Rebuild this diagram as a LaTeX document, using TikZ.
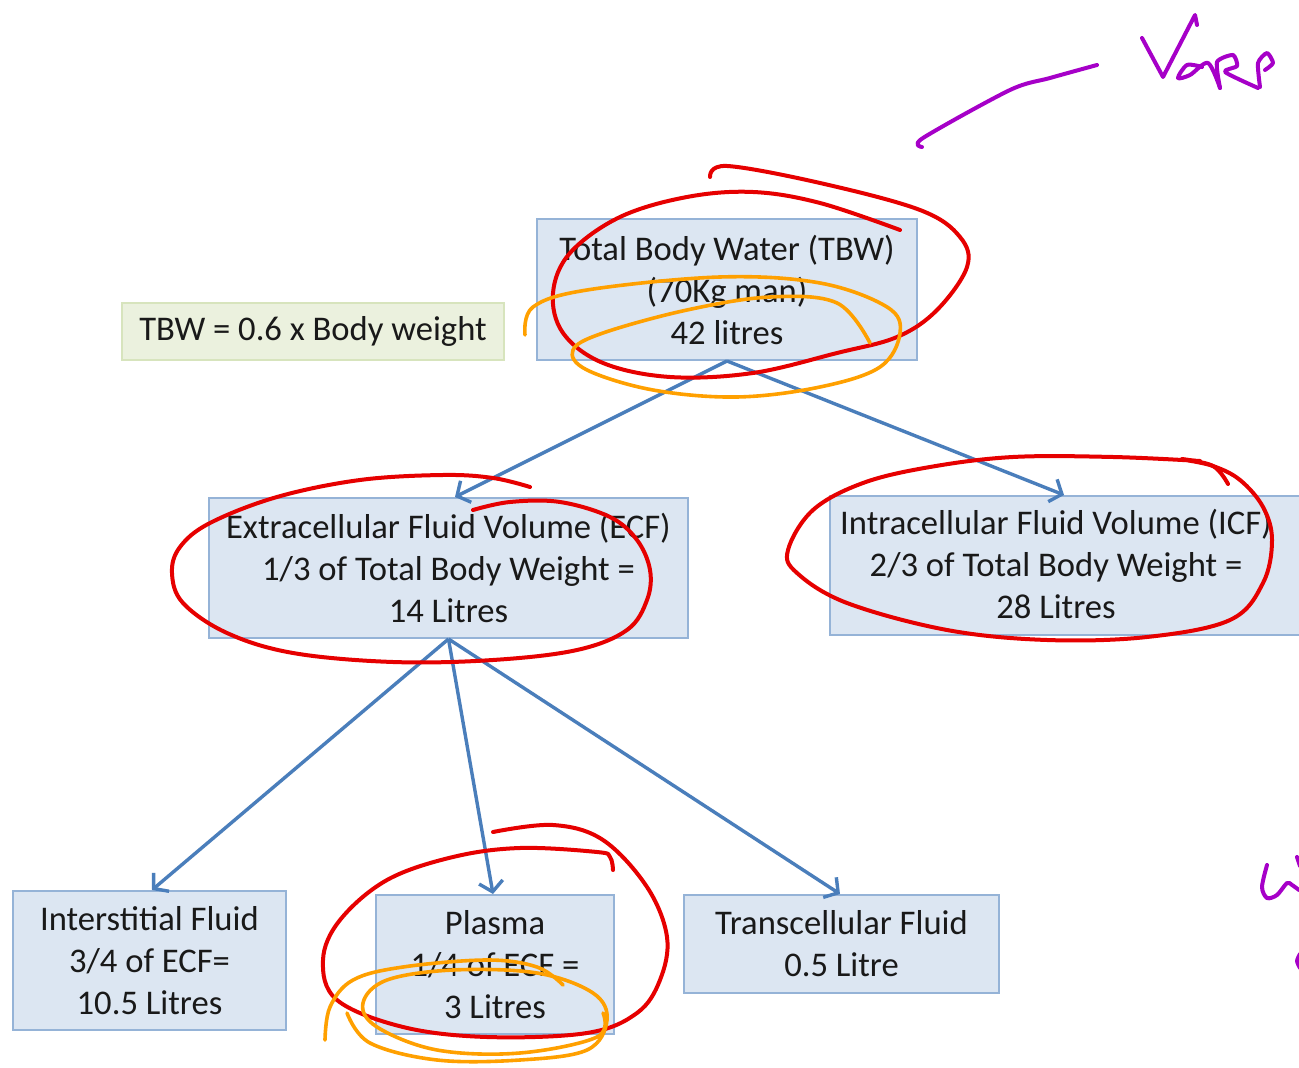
\documentclass[tikz,border=0pt]{standalone}
\usepackage{fontspec}
\setmainfont{Carlito}
\usetikzlibrary{arrows.meta}
\definecolor{boxfill}{HTML}{DCE6F2}
\definecolor{boxline}{HTML}{95B3D7}
\definecolor{greenfill}{HTML}{EBF1DE}
\definecolor{greenline}{HTML}{D7E4BD}
\definecolor{arrowblue}{HTML}{4A7EBB}
\definecolor{inkred}{HTML}{E60000}
\definecolor{inkorange}{HTML}{FFA000}
\definecolor{inkpurple}{HTML}{A600C8}
\tikzset{
  fluidbox/.style={draw=boxline, fill=boxfill, line width=1pt, inner sep=0pt, align=center,
    text=black!90, font=\fontsize{17.3}{21}\selectfont},
  notebox/.style={draw=greenline, fill=greenfill, line width=1pt, inner sep=0pt, align=center,
    text=black!90, font=\fontsize{17.3}{21}\selectfont},
  plaintext/.style={inner sep=0pt, align=center, text=black!90, font=\fontsize{17.3}{21}\selectfont},
  flow/.style={draw=arrowblue, line width=1.7pt, -{Straight Barb[length=5pt,width=12pt,line width=1.7pt]}},
  redink/.style={draw=inkred, line width=2pt, line cap=round, line join=round},
  orangeink/.style={draw=inkorange, line width=1.8pt, line cap=round, line join=round},
  purpleink/.style={draw=inkpurple, line width=2pt, line cap=round, line join=round}
}
\begin{document}
\begin{tikzpicture}[x=0.5pt, y=-0.5pt]
\useasboundingbox (0,0) rectangle (1299,1068);
\clip (0,0) rectangle (1299,1068);
\fill[white] (0,0) rectangle (1299,1068);

% boxes
\node[fluidbox, minimum width=190pt, minimum height=70.5pt] (TBW) at (727,289.5)
  {Total Body Water (TBW)\\(70Kg man)\\42 litres};
\node[notebox, minimum width=191pt, minimum height=28.5pt] (note) at (313,331.5)
  {TBW = 0.6 x Body weight};
\node[fluidbox, minimum width=239.5pt, minimum height=70pt] (ECF) at (448.5,568)
  {Extracellular Fluid Volume (ECF)\\1/3 of Total Body Weight =\\14 Litres};
\node[fluidbox, minimum width=245pt, minimum height=69.5pt] (ICF) at (1075,565.5) {};
\node[plaintext] (ICFt) at (1056,564)
  {Intracellular Fluid Volume (ICF)\\2/3 of Total Body Weight =\\28 Litres};
\node[fluidbox, minimum width=136.5pt, minimum height=69.5pt] (IF) at (149.5,960.5)
  {Interstitial Fluid\\3/4 of ECF=\\10.5 Litres};
\node[fluidbox, minimum width=119pt, minimum height=69.5pt] (PL) at (495,964.5)
  {Plasma\\1/4 of ECF =\\3 Litres};
\node[fluidbox, minimum width=157.5pt, minimum height=49pt] (TC) at (841.5,944)
  {Transcellular Fluid\\0.5 Litre};

% connectors
\draw[flow] (TBW.south) -- ([xshift=3.25pt]ECF.north);
\draw[flow] (TBW.south) -- ([xshift=117.5pt]ICF.north west);
\draw[flow] (ECF.south) -- ([xshift=1.25pt]IF.north);
\draw[flow] (ECF.south) -- ([xshift=-1pt]PL.north);
\draw[flow] (ECF.south) -- ([xshift=-0.75pt]TC.north);

% red annotations
\draw[redink] plot[smooth, tension=0.6] coordinates {(710,177) (727,166) (820,183) (920,210) (960,237) (967,267) (937,310) (897,337) (837,353) (753,373) (670,377) (603,363) (563,333) (553,293) (570,253) (620,217) (687,197) (753,192) (820,203) (900,230)};
\draw[redink] plot[smooth, tension=0.6] coordinates {(530,487) (493,478) (443,475) (360,480) (277,497) (210,523) (180,547) (172,573) (183,603) (227,633) (293,653) (393,662) (493,660) (577,650) (627,630) (647,600) (650,570) (637,540) (610,517) (560,502) (510,502) (473,510)};
\draw[redink] plot[smooth, tension=0.6] coordinates {(1200,461) (1113,457) (1013,457) (930,467) (863,483) (813,510) (788,550) (797,573) (847,603) (947,630) (1047,640) (1147,637) (1230,620) (1263,583) (1272,540) (1263,507) (1240,480) (1213,466) (1185,460)};
\draw[redink] plot[smooth, tension=0.6] coordinates {(1182,459) (1213,466) (1228,484)};
\draw[redink] plot[smooth, tension=0.6] coordinates {(493,832) (553,825) (603,840) (647,887) (667,937) (660,980) (637,1013) (587,1033) (487,1037) (403,1027) (337,1000) (323,960) (340,920) (387,880) (453,857) (520,848) (597,852) (610,857) (613,870)};

% orange annotations
\draw[orangeink] plot[smooth, tension=0.6] coordinates {(525,335) (533,307) (587,290) (720,277) (820,283) (887,307) (900,333) (880,367) (820,387) (737,397) (653,390) (587,370) (573,350) (603,333) (687,310) (770,297) (837,303) (870,343)};
\draw[orangeink] plot[smooth, tension=0.6] coordinates {(325,1040) (330,1007) (353,980) (403,967) (487,960) (537,967) (563,985)};
\draw[orangeink] plot[smooth, tension=0.6] coordinates {(347,1013) (370,1043) (437,1060) (520,1060) (587,1050) (607,1020) (593,993) (537,973) (453,970) (387,980) (363,1003) (377,1027) (437,1050) (520,1053) (597,1037) (603,1013)};

% purple annotations
\draw[purpleink] plot[smooth, tension=0.5] coordinates {(922,147) (923,138) (1010,90) (1050,78) (1097,65)};
\draw[purpleink] (1142,38) -- (1163,77) -- (1195,15) -- (1197,25);
\draw[purpleink] plot[smooth, tension=0.5] coordinates {(1202,67) (1187,65) (1178,78) (1190,75) (1208,63) (1220,88)};
\draw[purpleink] plot[smooth, tension=0.4] coordinates {(1220,88) (1217,62) (1233,55) (1237,66) (1225,72) (1258,88)};
\draw[purpleink] plot[smooth, tension=0.4] coordinates {(1260,87) (1258,63) (1267,53) (1273,63) (1265,70)};
\draw[purpleink] plot[smooth, tension=0.5] coordinates {(1267,865) (1262,887) (1267,898) (1277,895) (1287,883) (1292,885) (1299,890)};
\draw[purpleink] (1297,857) -- (1300,866);
\draw[purpleink] plot[smooth, tension=0.5] coordinates {(1300,954) (1297,961) (1300,968)};
\end{tikzpicture}
\end{document}
